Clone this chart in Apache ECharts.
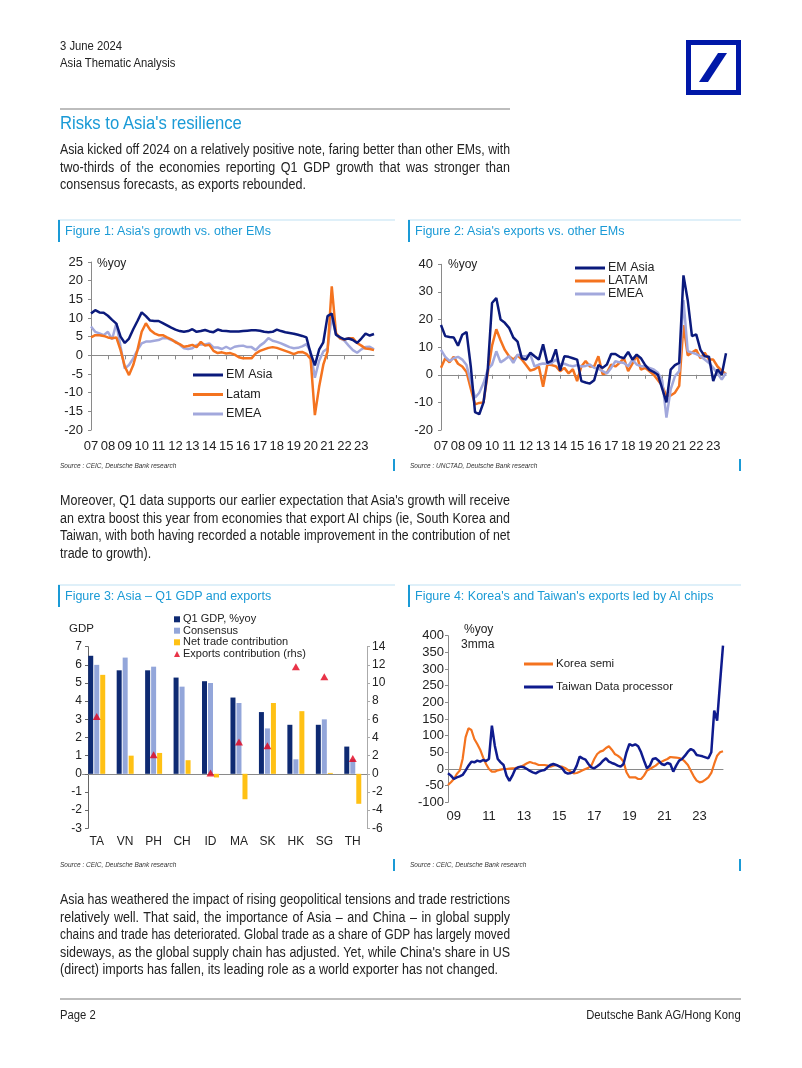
<!DOCTYPE html>
<html><head><meta charset="utf-8">
<script src="https://cdn.jsdelivr.net/npm/echarts@6/dist/echarts.min.js"></script>
<style>
html,body{margin:0;padding:0;background:#fff;}
#page{position:relative;width:802px;height:1068px;overflow:hidden;background:#fff;}
#chart{position:absolute;left:0;top:0;width:802px;height:1068px;}
.t{position:absolute;white-space:nowrap;color:#222;}
.s{font-family:'Liberation Sans',Arial,sans-serif;}
.c{font-family:'Liberation Sans',Arial,sans-serif;transform:scaleX(0.9);transform-origin:0 0;}
.cr{font-family:'Liberation Sans',Arial,sans-serif;transform:scaleX(0.9);transform-origin:100% 0;}
.para{position:absolute;left:60px;width:450px;color:#222;}
.para div{transform-origin:0 0;height:17.6px;line-height:17.6px;font-size:14px;font-family:'Liberation Sans',Arial,sans-serif;text-align:justify;text-align-last:justify;}
.para div.l{text-align-last:left;}
.ft{position:absolute;font-family:'Liberation Sans',Arial,sans-serif;font-size:12.5px;line-height:14px;color:#1a9ad6;white-space:nowrap;}
.src{position:absolute;font-family:'Liberation Sans',Arial,sans-serif;font-style:italic;font-size:6.5px;line-height:8px;color:#333;white-space:nowrap;}
</style></head>
<body><div id="page">
<div id="chart"></div>

<div class="t c" style="left:60px;top:39px;font-size:12.5px;line-height:14px;">3 June 2024</div>
<div class="t c" style="left:60px;top:56px;font-size:12.5px;line-height:14px;">Asia Thematic Analysis</div>
<div class="t c" style="left:60px;top:112px;font-size:18.5px;line-height:22px;color:#1a9ad6;">Risks to Asia's resilience</div>

<div class="para" style="top:141px;">
<div>Asia kicked off 2024 on a relatively positive note, faring better than other EMs, with</div>
<div>two-thirds of the economies reporting Q1 GDP growth that was stronger than</div>
<div class="l">consensus forecasts, as exports rebounded.</div>
</div>

<div class="ft" style="left:65px;top:224px;">Figure 1: Asia's growth vs. other EMs</div>
<div class="ft" style="left:415px;top:224px;">Figure 2: Asia's exports vs. other EMs</div>
<div class="src" style="left:60px;top:462px;">Source : CEIC, Deutsche Bank research</div>
<div class="src" style="left:410px;top:462px;">Source : UNCTAD, Deutsche Bank research</div>

<div class="t s" style="left:97px;top:256px;font-size:12px;line-height:14px;">%yoy</div>
<div class="t s" style="left:448px;top:257px;font-size:12px;line-height:14px;">%yoy</div>

<div class="para" style="top:492px;">
<div>Moreover, Q1 data supports our earlier expectation that Asia's growth will receive</div>
<div>an extra boost this year from economies that export AI chips (ie, South Korea and</div>
<div>Taiwan, with both having recorded a notable improvement in the contribution of net</div>
<div class="l">trade to growth).</div>
</div>

<div class="ft" style="left:65px;top:589px;">Figure 3: Asia – Q1 GDP and exports</div>
<div class="ft" style="left:415px;top:589px;">Figure 4: Korea's and Taiwan's exports led by AI chips</div>
<div class="src" style="left:60px;top:861px;">Source : CEIC, Deutsche Bank research</div>
<div class="src" style="left:410px;top:861px;">Source : CEIC, Deutsche Bank research</div>

<div class="t s" style="left:69px;top:621px;font-size:11.5px;line-height:14px;">GDP</div>
<div class="t s" style="left:464px;top:622px;font-size:12px;line-height:14px;">%yoy</div>
<div class="t s" style="left:461px;top:637px;font-size:12px;line-height:14px;">3mma</div>

<div class="para" style="top:891px;">
<div>Asia has weathered the impact of rising geopolitical tensions and trade restrictions</div>
<div>relatively well. That said, the importance of Asia – and China – in global supply</div>
<div>chains and trade has deteriorated. Global trade as a share of GDP has largely moved</div>
<div>sideways, as the global supply chain has adjusted. Yet, while China's share in US</div>
<div class="l">(direct) imports has fallen, its leading role as a world exporter has not changed.</div>
</div>

<div class="t c" style="left:60px;top:1008px;font-size:12.5px;line-height:14px;">Page 2</div>
<div class="t cr" style="right:61px;top:1008px;font-size:12.5px;line-height:14px;">Deutsche Bank AG/Hong Kong</div>
</div>

<script>
// fit body text lines: condensed look, justified to 450px
(function () {
  const TARGET = 450, BASE = 0.895;
  document.querySelectorAll('.para div').forEach(function (d) {
    const probe = document.createElement('span');
    probe.style.cssText = 'position:absolute;visibility:hidden;white-space:nowrap;font-size:14px;font-family:' + getComputedStyle(d).fontFamily;
    probe.textContent = d.textContent;
    document.body.appendChild(probe);
    const w = probe.getBoundingClientRect().width;
    document.body.removeChild(probe);
    const s = Math.min(BASE, (TARGET - 1) / w);
    d.style.width = (TARGET / s) + 'px';
    d.style.transform = 'scaleX(' + s + ')';
  });
})();

// ---------------- DATA ----------------
// Figure 1: GDP growth, %yoy, quarterly 2007Q1..2023Q4
const gdpEmAsia = [11.2,12.1,11.5,11.4, 10.6,9.5,8.5,5.0, 3.3,4.5,7.0,9.2, 11.5,10.5,9.3,9.2, 9.2,8.6,8.0,7.4, 6.9,6.5,6.3,6.5, 7.0,6.3,6.5,6.8, 6.4,6.2,6.9,6.6, 6.5,6.4,6.4,6.4, 6.5,6.6,6.7,6.7, 6.6,6.3,6.2,6.3, 6.9,6.5,6.2,6.0, 5.8,5.5,5.2,4.8, 0.5,-2.7,1.5,3.5, 10.5,11.2,5.5,4.8, 4.3,4.5,4.1,3.3, 4.5,5.8,5.3,5.7];
const gdpLatam = [4.8,5.4,5.4,5.2, 4.8,4.6,4.8,1.4, -3.0,-5.3,-2.6,1.4, 6.3,8.6,6.8,5.9, 5.4,5.4,4.8,4.3, 3.5,3.0,2.3,2.5, 2.8,2.2,3.6,2.6, 2.8,1.2,0.6,0.8, 0.5,0.6,0.2,-0.5, -0.8,-0.8,-0.8,0.5, 1.2,1.6,2.0,2.2, 2.0,1.6,1.2,0.8, 0.3,0.8,0.9,0.4, -1.0,-16.0,-8.5,-2.5, 1.0,18.5,6.0,4.5, 4.2,4.6,4.6,3.3, 2.6,1.8,1.7,1.4];
const gdpEmea = [7.7,6.3,5.9,5.4, 6.3,4.3,8.6,2.3, -3.5,-2.6,-0.8,1.4, 3.2,3.7,3.7,3.9, 4.1,4.6,4.6,4.1, 3.7,2.8,1.9,1.7, 1.9,2.8,2.9,2.9, 3.2,2.1,2.1,1.7, 2.3,1.7,2.3,2.5, 2.6,2.2,2.2,1.4, 2.6,3.4,4.6,3.9, 3.6,3.2,2.7,2.2, 1.9,2.0,2.4,3.0, 1.0,-6.0,-1.5,1.0, 1.8,10.5,5.5,4.6, 3.9,2.6,1.4,0.7, 1.6,2.2,2.3,1.6];

// Figure 2: exports, %yoy, quarterly 2007Q1..2023Q4
const expEmAsia = [18.0,14.0,13.7,13.5, 10.5,14.5,15.5,3.0, -13.5,-14.3,-10.0,2.0, 26.0,27.8,20.0,18.8, 17.0,13.5,12.0,6.0, 5.5,8.0,6.7,5.5, 11.0,4.3,5.0,9.2, 1.5,6.7,6.5,6.0, 5.5,-2.3,-2.8,-3.2, -2.0,3.5,2.5,3.7, 7.5,7.5,6.5,6.0, 8.3,5.5,7.3,6.0, 3.5,1.8,1.0,0.0, -5.0,-10.0,1.9,3.5, 4.3,36.0,27.0,14.0, 14.6,9.0,6.7,6.5, -2.3,1.9,0.0,7.8];
const expLatam = [2.5,6.0,4.5,6.5, 4.0,3.0,1.0,-5.0, -10.7,-10.2,-10.0,0.7, 10.5,16.5,12.5,9.0, 6.7,5.5,7.0,5.5, 3.5,1.5,2.0,3.0, -4.3,3.7,3.5,3.1, 1.3,2.5,0.5,2.0, -2.3,3.0,5.0,3.0, 3.0,6.7,0.2,0.7, 3.7,3.0,4.3,6.0, 1.3,4.0,7.0,1.9, 2.5,1.3,0.0,-2.0, -4.0,-7.7,-7.5,-6.5, -4.0,18.0,7.0,8.0, 9.0,6.0,8.0,5.5, 5.5,3.0,1.5,0.3];
const expEmea = [9.0,6.5,5.0,6.0, 6.5,5.5,3.5,-2.5, -8.3,-6.5,-3.0,2.0, 3.7,8.5,4.5,5.5, 6.7,4.3,7.3,6.7, 6.7,7.3,3.0,3.7, 4.1,4.0,4.2,5.5, 3.7,4.0,3.4,3.1, 3.5,3.0,3.2,3.7, 2.5,2.2,1.3,0.5, 2.5,4.9,4.5,4.3, 3.1,5.5,3.7,3.1, 3.1,2.5,1.9,0.7, -2.0,-15.5,-5.3,-0.5, 1.3,27.0,8.6,8.0, 7.5,6.7,5.5,4.3, 2.5,0.5,-1.7,0.7];

// Figure 3: Q1 GDP and exports
const fig3Countries = ['TA','VN','PH','CH','ID','MA','SK','HK','SG','TH'];
const q1Gdp = [6.5,5.7,5.7,5.3,5.1,4.2,3.4,2.7,2.7,1.5];
const consensusGdp = [6.0,6.4,5.9,4.8,5.0,3.9,2.5,0.8,3.0,0.8];
const netTradeContrib = [5.45,1.0,1.15,0.75,-0.2,-1.4,3.9,3.45,0.05,-1.65];
const exportsContrib = [6.3,null,2.1,null,0.1,3.5,3.1,11.8,10.7,1.7];

// Figure 4: exports %yoy 3mma, bi-monthly 2008-09..2024-05
const koreaSemi = [-48,-40,-30,-15,-5,30,95,122,117,90,75,58,35,15,0,-8,-8,-4,-2,0,0,1,2,3,5,7,12,17,21,18,16,12,12,12,10,7,10,12,8,7,3,-3,-8,-13,-12,-8,-4,0,4,10,30,45,52,55,63,68,58,45,40,33,22,-10,-25,-25,-25,-30,-30,-20,-5,0,5,10,18,22,26,30,36,35,34,33,30,22,12,-5,-22,-35,-40,-38,-32,-25,-12,15,40,50,53];
const taiwanDataProc = [-13,-20,-30,-25,-22,-18,-5,10,22,20,25,22,27,24,30,130,70,30,20,12,-20,-36,-20,0,5,7,5,0,-6,-10,-13,-8,-5,-3,5,12,15,12,8,2,-10,-14,-12,-8,10,37,32,28,15,5,2,8,15,25,32,22,18,15,10,7,15,50,75,70,74,68,50,25,2,10,30,32,25,15,12,18,15,-8,10,25,30,40,52,60,55,42,40,38,35,32,50,175,145,260,370];

// categories
const quarters = [];
for (let y = 2007; y <= 2023; y++) for (let q = 1; q <= 4; q++) quarters.push(y + 'Q' + q);
const months2 = [];
for (let y = 2008, m = 9; months2.length < koreaSemi.length; ) {
  months2.push(y + '-' + (m < 10 ? '0' + m : m));
  m += 2; if (m > 12) { m -= 12; y++; }
}

// ---------------- STYLE ----------------
const NAVY = '#0b1a7c', ORANGE = '#f4731f', LAV = '#a2a8dc';
const NAVY4 = '#0f1b8e';
const AX = '#8a8a8a';
const FONT = "'Liberation Sans', Arial, sans-serif";
const isQ1 = (i, v) => /Q1$/.test(v);
const isOddJan = (i, v) => /-01$/.test(v) && (parseInt(v.slice(0, 4)) % 2 === 1);

function labelAxis(grid, data, intervalFn, fmt, margin, fs, boundaryGap) {
  return { type: 'category', gridIndex: grid, data: data, position: 'bottom', boundaryGap: boundaryGap,
    axisLine: { show: false, onZero: false }, axisTick: { show: false },
    axisLabel: { interval: intervalFn, formatter: fmt, margin: margin, fontSize: fs, color: '#222', fontFamily: FONT, hideOverlap: false } };
}
function zeroAxis(grid, data, tickFn, boundaryGap) {
  return { type: 'category', gridIndex: grid, data: data, position: 'bottom', boundaryGap: boundaryGap,
    axisLine: { show: true, onZero: true, lineStyle: { color: AX, width: 1 } },
    axisTick: tickFn ? { show: true, interval: tickFn, length: 4, lineStyle: { color: AX } } : { show: false },
    axisLabel: { show: false }, splitLine: { show: false } };
}
function valAxis(grid, min, max, interval, fs, margin, extra) {
  return Object.assign({ type: 'value', gridIndex: grid, min: min, max: max, interval: interval,
    axisLine: { show: true, lineStyle: { color: AX, width: 1 } },
    axisTick: { show: true, length: 3, lineStyle: { color: AX } },
    splitLine: { show: false },
    axisLabel: { fontSize: fs, color: '#222', margin: margin, fontFamily: FONT } }, extra || {});
}
function lineS(name, xi, yi, data, color, w) {
  return { type: 'line', name: name, xAxisIndex: xi, yAxisIndex: yi, data: data, symbol: 'none',
    lineStyle: { color: color, width: w }, itemStyle: { color: color }, animation: false };
}
function leg(name, left, cy, fs, icon, iw, ih) {
  const lh = fs + 2;
  return { data: [{ name: name, icon: icon }], left: left, top: cy - lh / 2, orient: 'vertical', padding: 0,
    itemWidth: iw, itemHeight: ih, itemGap: 0, selectedMode: false,
    textStyle: { fontSize: fs, color: '#222', lineHeight: lh, fontFamily: FONT, padding: [0, 0, 0, -2] } };
}

const option = {
  animation: false,
  grid: [
    { left: 91, top: 262, width: 283, height: 168 },
    { left: 441, top: 264.3, width: 285, height: 165.7 },
    { left: 82.5, top: 646.7, width: 284.5, height: 181.6 },
    { left: 448, top: 635.7, width: 275, height: 166.6 }
  ],
  xAxis: [
    labelAxis(0, quarters, isQ1, v => v.slice(2, 4), 10, 13, false),
    zeroAxis(0, quarters, isQ1, false),
    labelAxis(1, quarters, isQ1, v => v.slice(2, 4), 10, 13, false),
    zeroAxis(1, quarters, isQ1, false),
    labelAxis(2, fig3Countries, 0, null, 7, 12, true),
    zeroAxis(2, fig3Countries, null, true),
    labelAxis(3, months2, isOddJan, v => v.slice(2, 4), 8, 13, false),
    zeroAxis(3, months2, null, false)
  ],
  yAxis: [
    valAxis(0, -20, 25, 5, 13, 8),
    valAxis(1, -20, 40, 10, 13, 8),
    valAxis(2, -3, 7, 1, 12, 6, { offset: -5.5, axisLine: { show: true, lineStyle: { color: '#666' } }, axisTick: { show: true, length: 3, lineStyle: { color: '#666' } } }),
    valAxis(2, -6, 14, 2, 12, 5, { position: 'right', axisLine: { show: true, lineStyle: { color: '#aaa' } }, axisTick: { show: true, length: 3, lineStyle: { color: '#aaa' } } }),
    valAxis(3, -100, 400, 50, 13, 4)
  ],
  legend: [
    leg('EM Asia', 193, 375, 12.5, 'rect', 30, 3),
    leg('Latam', 193, 394.5, 12.5, 'rect', 30, 3),
    leg('EMEA', 193, 414, 12.5, 'rect', 30, 3),
    leg('EM Asia', 575, 268, 12.5, 'rect', 30, 3),
    leg('LATAM', 575, 281, 12.5, 'rect', 30, 3),
    leg('EMEA', 575, 294, 12.5, 'rect', 30, 3),
    leg('Q1 GDP, %yoy', 174, 619.3, 11, 'rect', 6, 6),
    leg('Consensus', 174, 630.7, 11, 'rect', 6, 6),
    leg('Net trade contribution', 174, 642.3, 11, 'rect', 6, 6),
    leg('Exports contribution (rhs)', 174, 654, 11, 'triangle', 6, 6),
    leg('Korea semi', 524, 664, 11.5, 'rect', 29, 3),
    leg('Taiwan Data processor', 524, 687, 11.5, 'rect', 29, 3)
  ],
  series: [
    lineS('EMEA', 0, 0, gdpEmea, LAV, 2.5),
    lineS('Latam', 0, 0, gdpLatam, ORANGE, 2.5),
    lineS('EM Asia', 0, 0, gdpEmAsia, NAVY, 2.5),
    lineS('LATAM', 2, 1, expLatam, ORANGE, 2.5),
    lineS('EMEA', 2, 1, expEmea, LAV, 2.5),
    lineS('EM Asia', 2, 1, expEmAsia, NAVY, 2.5),
    { type: 'bar', name: 'Q1 GDP, %yoy', xAxisIndex: 4, yAxisIndex: 2, data: q1Gdp, barWidth: 5, barGap: '20%', itemStyle: { color: '#0e2a72' } },
    { type: 'bar', name: 'Consensus', xAxisIndex: 4, yAxisIndex: 2, data: consensusGdp, barWidth: 5, barGap: '20%', itemStyle: { color: '#93a6da' } },
    { type: 'bar', name: 'Net trade contribution', xAxisIndex: 4, yAxisIndex: 2, data: netTradeContrib, barWidth: 5, barGap: '20%', itemStyle: { color: '#ffc114' } },
    { type: 'scatter', name: 'Exports contribution (rhs)', xAxisIndex: 4, yAxisIndex: 3, data: exportsContrib, symbol: 'triangle', symbolSize: [8, 7], itemStyle: { color: '#e2001a' }, z: 5 },
    lineS('Korea semi', 6, 4, koreaSemi, ORANGE, 2.2),
    lineS('Taiwan Data processor', 6, 4, taiwanDataProc, NAVY4, 2.5)
  ],
  graphic: [
    { type: 'rect', shape: { x: 688.5, y: 42.5, width: 50, height: 50 }, style: { fill: 'none', stroke: '#0018a8', lineWidth: 5 } },
    { type: 'polygon', shape: { points: [[718, 53], [727, 53], [708, 82], [699, 82]] }, style: { fill: '#0018a8' } },
    { type: 'rect', shape: { x: 60, y: 108, width: 450, height: 2 }, style: { fill: '#bdbdbd' } },
    { type: 'rect', shape: { x: 58, y: 219.5, width: 337, height: 1 }, style: { fill: '#bfe1f3' } },
    { type: 'rect', shape: { x: 408, y: 219.5, width: 333, height: 1 }, style: { fill: '#bfe1f3' } },
    { type: 'rect', shape: { x: 58, y: 584.5, width: 337, height: 1 }, style: { fill: '#bfe1f3' } },
    { type: 'rect', shape: { x: 408, y: 584.5, width: 333, height: 1 }, style: { fill: '#bfe1f3' } },
    { type: 'rect', shape: { x: 58, y: 220, width: 2, height: 22 }, style: { fill: '#1a9ad6' } },
    { type: 'rect', shape: { x: 408, y: 220, width: 2, height: 22 }, style: { fill: '#1a9ad6' } },
    { type: 'rect', shape: { x: 58, y: 585, width: 2, height: 22 }, style: { fill: '#1a9ad6' } },
    { type: 'rect', shape: { x: 408, y: 585, width: 2, height: 22 }, style: { fill: '#1a9ad6' } },
    { type: 'rect', shape: { x: 393, y: 459, width: 2, height: 12 }, style: { fill: '#1a9ad6' } },
    { type: 'rect', shape: { x: 739, y: 459, width: 2, height: 12 }, style: { fill: '#1a9ad6' } },
    { type: 'rect', shape: { x: 393, y: 859, width: 2, height: 12 }, style: { fill: '#1a9ad6' } },
    { type: 'rect', shape: { x: 739, y: 859, width: 2, height: 12 }, style: { fill: '#1a9ad6' } },
    { type: 'rect', shape: { x: 60, y: 998, width: 681, height: 2 }, style: { fill: '#bdbdbd' } }
  ]
};

const chart = echarts.init(document.getElementById('chart'), null, { renderer: 'canvas', width: 802, height: 1068 });
chart.setOption(option);
</script>
</body></html>
